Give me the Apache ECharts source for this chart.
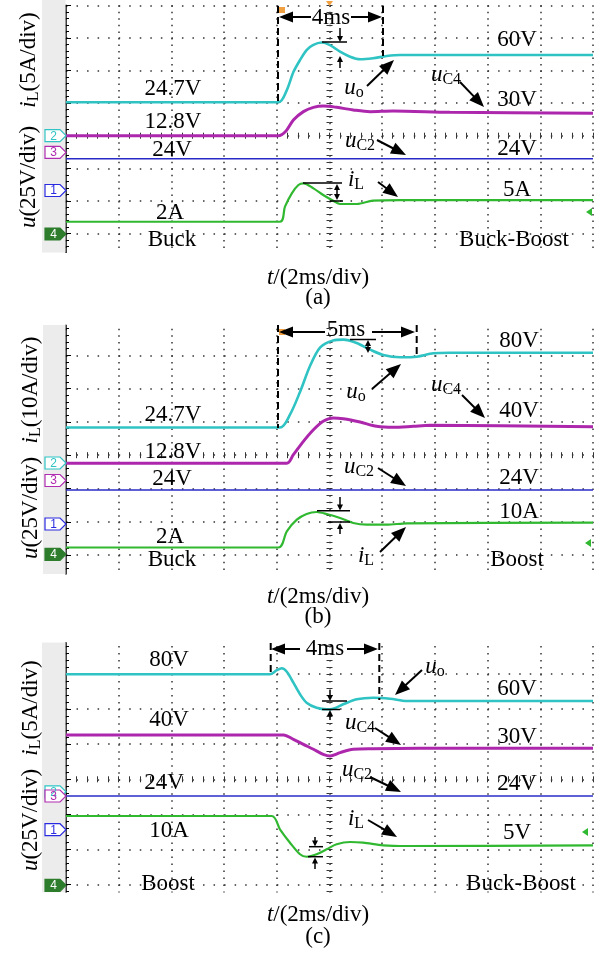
<!DOCTYPE html>
<html><head><meta charset="utf-8">
<script src="https://cdn.jsdelivr.net/npm/echarts@6.0.0/dist/echarts.min.js"></script>
<style>html,body{margin:0;padding:0;background:#fff}#c{width:603px;height:956px}</style>
</head><body><div id="c"></div>
<script>
// ---------------- DATA (time in ms, values in V or A) ----------------
// Panel (a): Buck -> Buck-Boost
const tA_uo  = [-10, -1.94, -1.62, -1.37, -1.12, -0.87, -0.63, -0.30, 0.02, 0.40, 0.78, 1.16, 1.65, 2.17, 2.68, 10];
const vA_uo  = [25.6, 25.6, 35.0, 48.8, 58.0, 65.7, 69.5, 71.5, 69.5, 64.4, 60.6, 58.6, 59.4, 61.1, 61.9, 61.9];
const tA_uC4 = [-10, -1.94, -1.65, -1.37, -0.99, -0.61, -0.23, 0.27, 0.90, 1.54, 2.41, 4.57, 10];
const vA_uC4 = [12.75, 12.75, 16.4, 24.8, 31.2, 34.5, 35.5, 34.5, 32.5, 31.2, 31.7, 30.7, 29.9];
const tA_uC2 = [-10, 10];
const vA_uC2 = [24.3, 24.3];
const tA_iL  = [-10, -1.88, -1.69, -1.43, -1.18, -0.99, -0.61, -0.24, 0.14, 0.40, 1.04, 1.65, 2.68, 10];
const vA_iL  = [1.88, 1.88, 4.19, 6.24, 7.51, 7.77, 7.0, 5.98, 5.11, 4.6, 4.6, 5.11, 5.2, 5.2];
// Panel (b): Buck -> Boost
const tB_uo  = [-10, -1.88, -1.50, -1.12, -0.74, -0.36, 0.14, 0.52, 1.03, 1.54, 2.04, 2.68, 3.31, 3.94, 4.57, 10];
const vB_uo  = [26.6, 26.6, 36.3, 53.3, 72.8, 86.7, 92.0, 92.6, 90.1, 85.1, 81.1, 79.35, 79.8, 82.35, 82.8, 82.8];
const tB_uC4 = [-10, -1.62, -1.37, -0.99, -0.61, -0.24, 0.14, 0.52, 1.16, 1.79, 2.42, 3.18, 3.81, 10];
const vB_uC4 = [12.9, 12.9, 19.4, 29.4, 38.1, 44.5, 47.0, 46.4, 43.9, 40.7, 39.9, 40.7, 41.4, 40.4];
const tB_uC2 = [-10, 10];
const vB_uC2 = [25.5, 25.5];
const tB_iL  = [-10, -1.94, -1.62, -1.24, -0.87, -0.49, -0.11, 0.40, 0.90, 1.41, 2.17, 2.93, 10];
const vB_iL  = [2.04, 2.04, 6.91, 10.39, 12.1, 12.7, 12.1, 10.9, 9.4, 8.9, 8.9, 9.3, 9.5];
// Panel (c): Boost -> Buck-Boost
const tC_uo  = [-10, -2.26, -2.00, -1.81, -1.62, -1.37, -1.12, -0.87, -0.49, -0.11, 0.14, 0.52, 1.03, 1.66, 2.30, 2.93, 10];
const vC_uo  = [83.7, 83.7, 86.6, 88.0, 85.5, 77.7, 69.5, 63.5, 59.9, 58.8, 59.2, 62.3, 65.9, 67.0, 66.3, 64.7, 64.7];
const tC_uC4 = [-10, -1.75, -1.37, -0.99, -0.61, -0.24, 0.02, 0.40, 0.90, 1.66, 3.43, 10];
const vC_uC4 = [43.5, 43.5, 40.4, 36.8, 33.3, 29.7, 28.5, 30.9, 33.3, 33.7, 34.0, 34.0];
const tC_uC2 = [-10, 10];
const vC_uC2 = [24.0, 24.0];
const tC_iL  = [-10, -2.19, -1.88, -1.50, -1.12, -0.87, -0.49, -0.11, 0.27, 0.78, 1.28, 2.04, 2.93, 10];
const vC_iL  = [9.87, 9.87, 7.98, 6.07, 4.42, 4.07, 4.42, 5.13, 5.84, 6.17, 6.07, 5.70, 5.6, 5.7];

// channel scales (units/div) and ground positions (div) per panel, order: uo, uC4, uC2, iL
const chanScale  = [[25, 25, 25, 5], [25, 25, 25, 10], [25, 25, 25, 5]];
const chanGround = [[0, -0.51, -1.681, -3.015], [-0.234, -0.76, -2.066, -2.976], [-0.356, -0.476, -1.436, -3.02]];
const chanNumber = ['2', '3', '1', '4'];

// ---------------- LAYOUT / STYLE ----------------
const panelCY = [135.7, 455.2, 779.3];
const panelDiv = [32.6, 33.3, 35.1];
const GL = 66, GW = 527;
const DOT = '#333';
const colors = ['#2fc3c3', '#ad27ad', '#2a2ac8', '#30b830'];
const widths = [2.6, 3.0, 1.6, 2.2];
const FF = "'Liberation Serif','Times New Roman',serif";
const FS = 23;

const panelsT = [[tA_uo, tA_uC4, tA_uC2, tA_iL], [tB_uo, tB_uC4, tB_uC2, tB_iL], [tC_uo, tC_uC4, tC_uC2, tC_iL]];
const panelsV = [[vA_uo, vA_uC4, vA_uC2, vA_iL], [vB_uo, vB_uC4, vB_uC2, vB_iL], [vC_uo, vC_uC4, vC_uC2, vC_iL]];

const grids = [], xAxes = [], yAxes = [], series = [];
panelCY.forEach((cy, p) => {
  const d = panelDiv[p];
  grids.push({left: GL, width: GW, top: cy - 4 * d, height: 8 * d, outerBoundsMode: 'none', containLabel: false});
  const xi = xAxes.length, yi = yAxes.length;
  const xper = GW / 50, yper = d / 5;
  xAxes.push({gridIndex: p, type: 'value', min: -10, max: 10, interval: 2,
    axisLine: {show: false, onZero: false}, axisTick: {show: false}, axisLabel: {show: false},
    splitLine: {show: true, lineStyle: {color: DOT, width: 1.5, type: [1.5, yper - 1.5]}}});
  [true, false].forEach(inside => xAxes.push({gridIndex: p, type: 'value', min: -10, max: 10, interval: 2,
    axisLine: {show: false, onZero: true, onZeroAxisIndex: yi},
    axisTick: {show: true, inside, length: 3, lineStyle: {color: DOT, width: 1}},
    minorTick: {show: true, splitNumber: 5, length: 3, lineStyle: {color: DOT, width: 1}},
    axisLabel: {show: false}, splitLine: {show: false}}));
  yAxes.push({gridIndex: p, type: 'value', min: -4, max: 4, interval: 1,
    axisLine: {show: true, onZero: false, lineStyle: {color: '#000', width: 1.5}},
    axisTick: {show: true, inside: true, length: 5, lineStyle: {color: '#000', width: 1}},
    minorTick: {show: true, splitNumber: 5, length: 3, lineStyle: {color: '#000', width: 1}},
    axisLabel: {show: false},
    splitLine: {show: true, lineStyle: {color: DOT, width: 1.5, type: [1.5, xper - 1.5]}}});
  [true, false].forEach(inside => yAxes.push({gridIndex: p, type: 'value', min: -4, max: 4, interval: 1,
    axisLine: {show: false, onZero: true, onZeroAxisIndex: xi},
    axisTick: {show: true, inside, length: 3, lineStyle: {color: DOT, width: 1}},
    minorTick: {show: true, splitNumber: 5, length: 3, lineStyle: {color: DOT, width: 1}},
    axisLabel: {show: false}, splitLine: {show: false}}));
  chanScale[p].forEach((s, k) => {
    const g = chanGround[p][k];
    const ai = yAxes.length;
    yAxes.push({gridIndex: p, type: 'value', show: false, min: (-4 - g) * s, max: (4 - g) * s});
    const T = panelsT[p][k], V = panelsV[p][k];
    series.push({type: 'line', xAxisIndex: xi, yAxisIndex: ai, data: T.map((t, i) => [t, V[i]]),
      showSymbol: false, symbol: 'none', smooth: 0.3, silent: true, z: 3 + k,
      lineStyle: {color: colors[k], width: widths[k]}});
  });
});

// ---------------- ANNOTATIONS ----------------
const els = [];
function T(x, y, s, size) {
  els.push({type: 'text', x, y, z: 100, silent: true,
    style: {text: s, fontFamily: FF, fontSize: size || FS, fill: '#000', align: 'center', verticalAlign: 'middle'}});
}
function S(x, y, parts, size, rot) {
  size = size || FS;
  const rich = {
    i: {fontFamily: FF, fontSize: size, fontStyle: 'italic', lineHeight: size + 2, verticalAlign: 'middle', fill: '#000'},
    n: {fontFamily: FF, fontSize: size, lineHeight: size + 2, verticalAlign: 'middle', fill: '#000'},
    s: {fontFamily: FF, fontSize: Math.round(size * 0.68), lineHeight: Math.round(size * 0.42), verticalAlign: 'bottom', fill: '#000'}
  };
  els.push({type: 'text', x, y, rotation: rot || 0, z: 100, silent: true,
    style: {text: parts.map(q => '{' + q[0] + '|' + q[1] + '}').join(''), align: 'center', verticalAlign: 'middle', rich}});
}
function seg(x1, y1, x2, y2, w, dash) {
  els.push({type: 'line', z: 90, silent: true, shape: {x1, y1, x2, y2},
    style: {stroke: '#000', lineWidth: w || 1.5, lineDash: dash || null}});
}
function head(x, y, ux, uy, hl, hw) {
  const bx = x - ux * hl, by = y - uy * hl, px = -uy, py = ux;
  els.push({type: 'polygon', z: 91, silent: true,
    shape: {points: [[x, y], [bx + px * hw / 2, by + py * hw / 2], [bx - px * hw / 2, by - py * hw / 2]]},
    style: {fill: '#000'}});
}
function arrow(x1, y1, x2, y2, hl, hw, both, w) {
  hl = hl || 15; hw = hw || 12;
  const dx = x2 - x1, dy = y2 - y1, L = Math.hypot(dx, dy), ux = dx / L, uy = dy / L;
  let sx = x1, sy = y1;
  if (both) { head(x1, y1, -ux, -uy, hl, hw); sx = x1 + ux * hl * 0.8; sy = y1 + uy * hl * 0.8; }
  seg(sx, sy, x2 - ux * hl * 0.8, y2 - uy * hl * 0.8, w || 2);
  head(x2, y2, ux, uy, hl, hw);
}
function dash(x1, y1, x2, y2) { seg(x1, y1, x2, y2, 2, [7, 4]); }
function rect(x, y, w, h, fill, z) {
  els.push({type: 'rect', z, silent: true, shape: {x, y, width: w, height: h}, style: {fill}});
}
function marker(y, num, color, filled) {
  const x0 = 45, x1 = 60, x2 = 66, h = 12;
  els.push({type: 'polygon', z: 60, silent: true,
    shape: {points: [[x0, y - h / 2], [x1, y - h / 2], [x2, y], [x1, y + h / 2], [x0, y + h / 2]]},
    style: {fill: filled ? color : '#fff', stroke: color, lineWidth: 1.2}});
  els.push({type: 'text', x: (x0 + x1) / 2 + 1, y: y + 0.5, z: 61, silent: true,
    style: {text: num, fontFamily: "'Liberation Sans',Arial,sans-serif", fontSize: 12, fill: filled ? '#fff' : color, align: 'center', verticalAlign: 'middle'}});
}
function tri(points, fill) { els.push({type: 'polygon', z: 80, silent: true, shape: {points}, style: {fill}}); }

// grey strips and covers (scope screenshot crop)
rect(42, 0, 23.5, 252.5, '#ececec', 1);
rect(43, 325, 22.5, 249, '#ececec', 1);
rect(42, 642.5, 23.5, 250, '#ececec', 1);
rect(40, 253, 563, 16, '#fff', 50);
rect(40, 306, 563, 18.8, '#fff', 50);
rect(40, 574.5, 563, 16, '#fff', 50);
rect(40, 628, 563, 14.3, '#fff', 50);
rect(40, 892.5, 563, 29, '#fff', 50);

// channel ground markers
const markerColors = ['#2fc3c3', '#b02cb0', '#2a2ae0', '#2d7d2d'];
panelCY.forEach((cy, p) => {
  chanGround[p].forEach((g, k) => marker(cy - g * panelDiv[p], chanNumber[k], markerColors[k], k === 3));
});

// y-axis titles
const U = [['i', 'u'], ['n', '(25V/div)']];
S(29, 177, U, FS, Math.PI / 2); S(29, 60, [['i', 'i'], ['s', 'L'], ['n', '(5A/div)']], FS, Math.PI / 2);
S(31, 508, U, FS, Math.PI / 2); S(31, 390, [['i', 'i'], ['s', 'L'], ['n', '(10A/div)']], FS, Math.PI / 2);
S(31, 820, U, FS, Math.PI / 2); S(31, 708, [['i', 'i'], ['s', 'L'], ['n', '(5A/div)']], FS, Math.PI / 2);

const TX = [['i', 't'], ['n', '/(2ms/div)']];
const UO = [['i', 'u'], ['s', 'o']], UC4 = [['i', 'u'], ['s', 'C4']], UC2 = [['i', 'u'], ['s', 'C2']], IL = [['i', 'i'], ['s', 'L']];

// ----- panel (a)
T(173, 89, '24.7V'); T(173, 122, '12.8V'); T(172, 150, '24V'); T(170, 213, '2A'); T(172, 240, 'Buck');
T(517, 40, '60V'); T(517, 100, '30V'); T(517, 149, '24V'); T(517, 190, '5A'); T(514, 240, 'Buck-Boost');
T(331, 18, '4ms');
S(354, 88, UO); S(446, 75, UC4); S(360, 141, UC2); S(356, 180, IL);
S(318, 278, TX); T(318, 298, '(a)');
arrow(311, 17, 279, 17, 14, 11); arrow(351, 17, 382, 17, 14, 11);
dash(278, 6, 278, 102); dash(383, 6, 383, 56);
arrow(367, 86, 394, 60); arrow(460, 82, 484, 107); arrow(377, 140, 406, 155); arrow(378, 182, 398, 197);
seg(322, 42, 347, 42); arrow(340, 28, 340, 42, 6, 6, false, 1.5); arrow(340, 68, 340, 56, 6, 6, false, 1.5);
seg(303, 183, 342, 183); arrow(337, 184, 337, 200, 6, 6, true, 1.5); seg(330, 201, 343, 201);
tri([[279, 7], [285, 7], [285, 13], [279, 13]], '#f0a040'); tri([[326, 1], [333, 1], [329.5, 6]], '#f0a040');
tri([[586, 212], [592, 208], [592, 216]], '#30b830');

// ----- panel (b)
T(173, 415, '24.7V'); T(173, 452, '12.8V'); T(172, 479, '24V'); T(170, 537, '2A'); T(172, 560, 'Buck');
T(519, 341, '80V'); T(519, 411, '40V'); T(519, 478, '24V'); T(519, 512, '10A'); T(517, 560, 'Boost');
T(346, 330, '5ms');
S(356, 392, UO); S(446, 385, UC4); S(359, 467, UC2); S(366, 556, IL);
S(318, 597, TX); T(318, 617, '(b)');
arrow(325, 332, 279, 332, 14, 11); arrow(372, 332, 415, 332, 14, 11);
dash(278, 325, 278, 428); dash(416.7, 325, 416.7, 357);
arrow(372, 389, 401, 364); arrow(462, 395, 485, 418); arrow(378, 468, 406, 486); arrow(380, 552, 406, 527);
seg(350, 339.5, 376, 339.5); arrow(368, 340, 368, 353, 6, 6, true, 1.5);
seg(317, 510.7, 350, 510.7); arrow(340, 497, 340, 510.5, 6, 6, false, 1.5);
seg(328, 522, 350, 522); arrow(340, 534, 340, 523, 6, 6, false, 1.5);
tri([[279, 329], [285, 329], [285, 335], [279, 335]], '#f0a040');
tri([[585, 543], [591, 539], [591, 547]], '#30b830');

// ----- panel (c)
T(169, 660, '80V'); T(169, 720, '40V'); T(164, 783, '24V'); T(169, 831, '10A'); T(168, 884, 'Boost');
T(517, 689, '60V'); T(517, 737, '30V'); T(517, 784, '24V'); T(517, 833, '5V'); T(521, 884, 'Buck-Boost');
T(325, 649, '4ms');
S(435, 667, UO); S(360, 723, UC4); S(357, 770, UC2); S(356, 819, IL);
S(318, 915, TX); T(318, 937, '(c)');
arrow(300, 649, 271, 649, 14, 11); arrow(347, 649, 378, 649, 14, 11);
dash(270.7, 643, 270.7, 674); dash(379.3, 643, 379.3, 700);
arrow(422, 670, 395, 695); arrow(375, 728, 401, 745); arrow(370, 777, 401, 792); arrow(368, 820, 397, 837);
arrow(330, 690, 330, 701, 6, 6, false, 1.5); seg(322, 701, 347, 701);
arrow(330, 720, 330, 710, 6, 6, false, 1.5); seg(322, 709.5, 340, 709.5);
arrow(315, 837, 315, 846.5, 6, 6, false, 1.5); seg(309, 846.7, 323, 846.7);
arrow(315, 869, 315, 857.5, 6, 6, false, 1.5); seg(308, 856.7, 323, 856.7);
tri([[278, 646], [284, 646], [284, 652], [278, 652]], '#f0a040');
tri([[582, 832], [588, 828], [588, 836]], '#30b830');

const chart = echarts.init(document.getElementById('c'), null, {renderer: 'canvas'});
chart.setOption({
  animation: false,
  backgroundColor: '#fff',
  grid: grids, xAxis: xAxes, yAxis: yAxes, series,
  graphic: {elements: els}
});
</script></body></html>
